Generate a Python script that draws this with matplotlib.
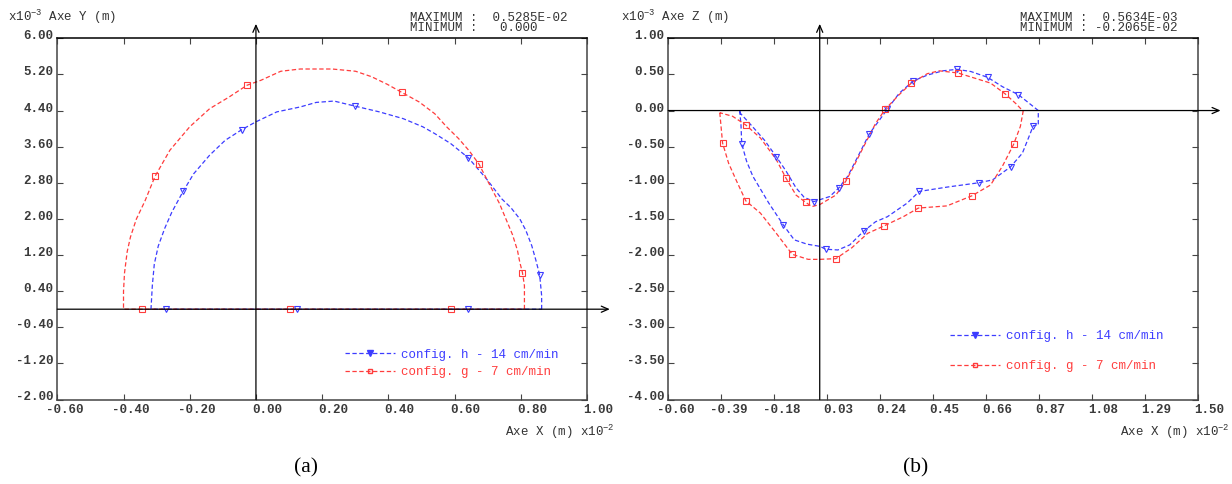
import numpy as np
import matplotlib
matplotlib.use("Agg")
import matplotlib.pyplot as plt
import matplotlib.transforms as mtransforms

plt.rcParams['font.family'] = ['Liberation Mono', 'DejaVu Sans Mono']
plt.rcParams['mathtext.fontset'] = 'custom'
plt.rcParams['mathtext.rm'] = 'Liberation Mono'
plt.rcParams['mathtext.it'] = 'Liberation Mono'
plt.rcParams['mathtext.default'] = 'rm'

# ---- (a) plane X-Y, values x1e-2 (X) and x1e-3 (Y)
a_h_x = [0.863, 0.863, 0.857, 0.845, 0.833, 0.815, 0.797, 0.770, 0.743, 0.696, 0.642, 0.588, 0.540,
         0.504, 0.445, 0.373, 0.298, 0.236, 0.182, 0.134, 0.063, 0.000, -0.042, -0.093, -0.140,
         -0.188, -0.220, -0.254, -0.275, -0.295, -0.307, -0.313, -0.317, 0.863]
a_h_y = [0.00, 0.30, 0.76, 1.10, 1.41, 1.75, 2.00, 2.25, 2.44, 2.89, 3.35, 3.67, 3.89,
         4.04, 4.22, 4.37, 4.50, 4.61, 4.58, 4.48, 4.37, 4.15, 3.98, 3.74, 3.41,
         3.00, 2.61, 2.15, 1.80, 1.40, 1.00, 0.52, 0.00, 0.00]
a_g_x = [0.811, 0.811, 0.805, 0.797, 0.790, 0.775, 0.755, 0.735, 0.707, 0.674, 0.645, 0.612, 0.576,
         0.540, 0.493, 0.441, 0.397, 0.349, 0.301, 0.230, 0.134, 0.075, 0.015, -0.027, -0.081,
         -0.140, -0.200, -0.260, -0.305, -0.335, -0.361, -0.379, -0.389, -0.397, -0.400, -0.400, 0.811]
a_g_y = [0.00, 0.52, 0.81, 1.04, 1.30, 1.65, 2.00, 2.35, 2.74, 3.21, 3.50, 3.78, 4.04,
         4.33, 4.59, 4.80, 4.98, 5.15, 5.27, 5.32, 5.32, 5.27, 5.07, 4.96, 4.70,
         4.44, 4.04, 3.52, 2.94, 2.40, 2.00, 1.60, 1.27, 0.80, 0.40, 0.00, 0.00]
a_h_mx = [-0.220, -0.042, 0.298, 0.642, 0.857, 0.642, 0.125, -0.272]
a_h_my = [2.61, 3.98, 4.50, 3.35, 0.76, 0.00, 0.00, 0.00]
a_g_mx = [-0.305, -0.027, 0.441, 0.674, 0.805, 0.590, 0.104, -0.343]
a_g_my = [2.94, 4.96, 4.80, 3.21, 0.81, 0.00, 0.00, 0.00]

# ---- (b) plane X-Z
b_h_x = [-0.317, -0.312, -0.309, -0.290, -0.265, -0.202, -0.145, -0.101, -0.050, 0.001, 0.024, 0.072,
         0.119, 0.174, 0.221, 0.268, 0.347, 0.394, 0.504, 0.630, 0.685, 0.756, 0.803, 0.835, 0.846,
         0.866, 0.866, 0.787, 0.724, 0.665, 0.599, 0.544, 0.488, 0.426, 0.371, 0.315, 0.268, 0.237,
         0.197, 0.158, 0.111, 0.076, 0.040, -0.023, -0.062, -0.094, -0.133, -0.172, -0.219, -0.267,
         -0.314, -0.317]
b_h_y = [0.00, -0.20, -0.46, -0.70, -0.91, -1.28, -1.58, -1.79, -1.85, -1.88, -1.92, -1.93,
         -1.86, -1.67, -1.54, -1.47, -1.28, -1.12, -1.06, -1.00, -0.96, -0.78, -0.59, -0.31, -0.21,
         -0.20, 0.00, 0.22, 0.33, 0.46, 0.54, 0.57, 0.55, 0.49, 0.41, 0.24, 0.02, -0.13,
         -0.32, -0.59, -0.91, -1.07, -1.19, -1.26, -1.20, -1.07, -0.84, -0.64, -0.41, -0.22,
         -0.04, 0.00]
b_g_x = [-0.396, -0.385, -0.361, -0.329, -0.293, -0.235, -0.172, -0.109, -0.046, 0.001, 0.064, 0.127,
         0.190, 0.253, 0.331, 0.391, 0.504, 0.603, 0.677, 0.724, 0.768, 0.795, 0.806, 0.779, 0.735,
         0.677, 0.548, 0.473, 0.426, 0.363, 0.315, 0.260, 0.221, 0.174, 0.135, 0.103, 0.064, 0.001,
         -0.031, -0.056, -0.094, -0.133, -0.172, -0.235, -0.293, -0.345, -0.396]
b_g_y = [-0.03, -0.45, -0.73, -0.98, -1.25, -1.42, -1.70, -1.99, -2.06, -2.06, -2.05, -1.90,
         -1.70, -1.60, -1.47, -1.35, -1.32, -1.18, -1.03, -0.77, -0.47, -0.22, -0.01, 0.09, 0.23,
         0.38, 0.52, 0.55, 0.51, 0.38, 0.22, 0.02, -0.18, -0.50, -0.77, -0.98, -1.17, -1.30,
         -1.33, -1.27, -1.17, -0.94, -0.68, -0.38, -0.20, -0.08, -0.03]
b_h_mx = [-0.309, -0.145, 0.024, 0.174, 0.394, 0.630, 0.756, 0.846, 0.787, 0.665, 0.544, 0.371,
          0.268, 0.197, 0.076, -0.023, -0.172]
b_h_my = [-0.46, -1.58, -1.92, -1.67, -1.12, -1.00, -0.78, -0.21, 0.22, 0.46, 0.57, 0.41,
          0.02, -0.32, -1.07, -1.26, -0.64]
b_g_mx = [-0.385, -0.293, -0.109, 0.064, 0.253, 0.391, 0.603, 0.768, 0.735, 0.548, 0.363, 0.260,
          0.103, -0.056, -0.133, -0.293]
b_g_my = [-0.45, -1.25, -1.99, -2.05, -1.60, -1.35, -1.18, -0.47, 0.23, 0.52, 0.38, 0.02,
          -0.98, -1.27, -0.94, -0.20]

a_xticks = [-0.60, -0.40, -0.20, 0.00, 0.20, 0.40, 0.60, 0.80, 1.00]
a_yticks = [-2.00, -1.20, -0.40, 0.40, 1.20, 2.00, 2.80, 3.60, 4.40, 5.20, 6.00]
b_xticks = [-0.60, -0.39, -0.18, 0.03, 0.24, 0.45, 0.66, 0.87, 1.08, 1.29, 1.50]
b_yticks = [-4.00, -3.50, -3.00, -2.50, -2.00, -1.50, -1.00, -0.50, 0.00, 0.50, 1.00]

labels = ['config. h - 14 cm/min', 'config. g - 7 cm/min']
BLUE = '#3c3cff'
RED = '#ff3c3c'
TXT = '#333333'

W, H = 1232, 484
fig = plt.figure(figsize=(W / 100, H / 100), dpi=100)


def panel(rect, xt, yt, hx, hy, hmx, hmy, gx, gy, gmx, gmy, xtip, legxy, legsp):
    ax = fig.add_axes(rect)
    ax.set_xlim(xt[0], xt[-1])
    ax.set_ylim(yt[0], yt[-1])
    ax.plot(hx, hy, color=BLUE, lw=0.9, dashes=(3.5, 2))
    ax.plot(gx, gy, color=RED, lw=0.9, dashes=(3.5, 2))
    ax.plot(hmx, hmy, ls='none', marker='v', ms=4.5, mfc='none', mec=BLUE, mew=0.8)
    ax.plot(gmx, gmy, ls='none', marker='s', ms=4, mfc='none', mec=RED, mew=0.8)
    # legend entries
    ax.plot([], [], color=BLUE, lw=0.9, dashes=(3.5, 2), marker='v', ms=4, mfc=BLUE, mec=BLUE,
            label=labels[0])
    ax.plot([], [], color=RED, lw=0.9, dashes=(3.5, 2), marker='s', ms=3.5, mfc='none', mec=RED,
            label=labels[1])
    hs, ls = ax.get_legend_handles_labels()
    ax.legend(hs, ls, loc='center left', bbox_to_anchor=legxy, bbox_transform=fig.transFigure,
              frameon=False, borderpad=0, borderaxespad=0, handlelength=4, handletextpad=0.5,
              labelspacing=legsp, numpoints=1, labelcolor='linecolor', fontsize=9)

    ax.set_xticks(xt)
    ax.set_xticklabels(['%.2f' % v for v in xt], fontweight='bold')
    ax.set_yticks(yt)
    ax.set_yticklabels(['%.2f' % v for v in yt], fontweight='bold')
    ax.tick_params(direction='in', top=True, right=True, length=4, width=0.8, color='#444444',
                   labelsize=9, labelcolor='#3a3a3a')
    ax.tick_params(axis='x', pad=3)
    ax.tick_params(axis='y', pad=3)
    dx = mtransforms.ScaledTranslation(0.26, 0, fig.dpi_scale_trans)
    dy = mtransforms.ScaledTranslation(0, 0.035, fig.dpi_scale_trans)
    for lab in ax.get_xticklabels():
        lab.set_horizontalalignment('right')
        lab.set_transform(lab.get_transform() + dx)
    for lab in ax.get_yticklabels():
        lab.set_transform(lab.get_transform() + dy)
    for s in ax.spines.values():
        s.set_color('#444444')
        s.set_linewidth(1.1)
    ax.spines['top'].set_color('black')

    # axes through origin with arrows
    arr = dict(arrowstyle='->,head_length=0.5,head_width=0.22', lw=0.9, color='black',
               shrinkA=0, shrinkB=0)
    ax.annotate('', xy=(0, 1.04), xycoords=ax.get_xaxis_transform(),
                xytext=(0, 0), textcoords=ax.get_xaxis_transform(),
                arrowprops=arr, annotation_clip=False)
    ax.annotate('', xy=(xtip, 0), xycoords=ax.get_yaxis_transform(),
                xytext=(0, 0), textcoords=ax.get_yaxis_transform(),
                arrowprops=arr, annotation_clip=False)
    return ax


ax1 = panel([57.3 / W, 1 - 399.5 / H, 529.7 / W, 361.2 / H], a_xticks, a_yticks,
            a_h_x, a_h_y, a_h_mx, a_h_my, a_g_x, a_g_y, a_g_mx, a_g_my,
            1.043, (345 / W, 1 - 363.4 / H), 0.45)
ax2 = panel([668.3 / W, 1 - 399.5 / H, 530 / W, 361.2 / H], b_xticks, b_yticks,
            b_h_x, b_h_y, b_h_mx, b_h_my, b_g_x, b_g_y, b_g_mx, b_g_my,
            1.042, (950 / W, 1 - 351.2 / H), 1.45)


def ftext(x, y, s, **kw):
    kw.setdefault('va', 'center')
    kw.setdefault('color', TXT)
    kw.setdefault('fontsize', 9)
    fig.text(x / W, 1 - y / H, s, **kw)


ftext(8.3, 16.7, r'x10$^{-3}$ Axe Y (m)')
ftext(410, 23, 'MAXIMUM :  0.5285E-02\nMINIMUM :   0.000', linespacing=0.78)
ftext(615, 432, r'Axe X (m) x10$^{-2}$', ha='right')
ftext(306, 468, '(a)', ha='center', family='Liberation Serif', fontsize=15.5, color='black')

ftext(621, 16.7, r'x10$^{-3}$ Axe Z (m)')
ftext(1020, 23, 'MAXIMUM :  0.5634E-03\nMINIMUM : -0.2065E-02', linespacing=0.78)
ftext(1230, 432, r'Axe X (m) x10$^{-2}$', ha='right')
ftext(916, 468, '(b)', ha='center', family='Liberation Serif', fontsize=15.5, color='black')

fig.savefig('out.png', dpi=100)
